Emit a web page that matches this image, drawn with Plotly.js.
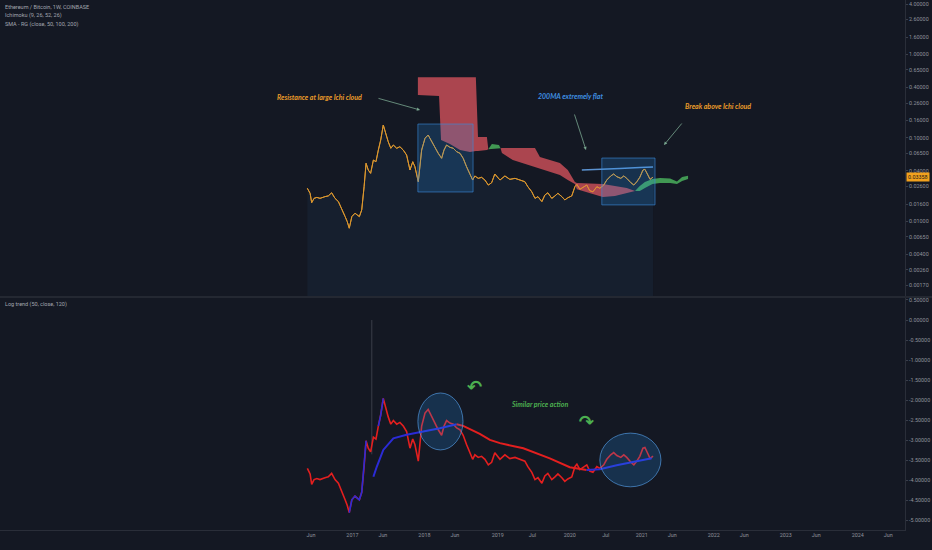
<!DOCTYPE html>
<html>
<head>
<meta charset="utf-8">
<script src="https://cdn.plot.ly/plotly-3.0.1.min.js"></script>
<style>html,body{margin:0;padding:0;background:#141823;}#chart{width:932px;height:550px;}</style>
</head>
<body>
<div id="chart"></div>
<script>
// ---------- DATA ----------
const priceDates = ['2016-05-19','2016-06-02','2016-06-10','2016-06-22','2016-07-06','2016-07-22','2016-08-16','2016-09-02','2016-09-19','2016-10-06','2016-10-23','2016-11-09','2016-11-26','2016-12-07','2016-12-17','2016-12-30','2017-01-15','2017-02-06','2017-02-18','2017-03-02','2017-03-12','2017-03-23','2017-04-04','2017-04-18','2017-05-01','2017-05-13','2017-05-25','2017-06-07','2017-06-21','2017-07-02','2017-07-15','2017-07-28','2017-08-14','2017-08-30','2017-09-16','2017-10-03','2017-10-20','2017-11-03','2017-11-14','2017-12-01','2017-12-18','2018-01-04','2018-01-20','2018-02-07','2018-02-23','2018-03-12','2018-03-29','2018-04-10','2018-04-23','2018-05-10','2018-05-27','2018-06-13','2018-06-30','2018-07-16','2018-08-02','2018-08-19','2018-09-02','2018-09-13','2018-09-30','2018-10-17','2018-11-03','2018-11-20','2018-12-07','2018-12-23','2019-01-09','2019-01-18','2019-02-12','2019-03-09','2019-04-04','2019-04-29','2019-05-24','2019-06-08','2019-06-28','2019-07-14','2019-07-29','2019-08-18','2019-09-02','2019-09-17','2019-10-07','2019-10-23','2019-11-07','2019-11-27','2019-12-12','2019-12-27','2020-01-16','2020-02-01','2020-02-11','2020-02-26','2020-03-12','2020-04-01','2020-04-16','2020-05-02','2020-05-22','2020-06-06','2020-06-26','2020-07-11','2020-07-31','2020-08-15','2020-08-31','2020-09-20','2020-10-05','2020-10-20','2020-11-10','2020-11-25','2020-12-10','2020-12-25','2021-01-10','2021-01-20','2021-02-04','2021-02-15','2021-03-02'];
const priceValues = [0.0247,0.0215,0.0166,0.0187,0.0192,0.0187,0.0196,0.0200,0.0218,0.0187,0.0171,0.0142,0.0113,0.0098,0.0082,0.0113,0.0124,0.0113,0.0136,0.0258,0.0492,0.0409,0.0373,0.0538,0.0514,0.0710,0.0936,0.1416,0.1074,0.0893,0.0745,0.0815,0.0745,0.0778,0.0710,0.0618,0.0409,0.0514,0.0448,0.0296,0.0710,0.0982,0.1074,0.0893,0.0778,0.0648,0.0565,0.0710,0.0815,0.0765,0.0745,0.0678,0.0648,0.0565,0.0448,0.0373,0.0310,0.0347,0.0325,0.0334,0.0310,0.0270,0.0288,0.0366,0.0325,0.0310,0.0347,0.0316,0.0325,0.0310,0.0296,0.0258,0.0224,0.0187,0.0196,0.0171,0.0205,0.0218,0.0187,0.0200,0.0215,0.0196,0.0179,0.0190,0.0200,0.0258,0.0275,0.0240,0.0254,0.0270,0.0231,0.0224,0.0258,0.0247,0.0270,0.0310,0.0347,0.0366,0.0340,0.0325,0.0347,0.0325,0.0288,0.0270,0.0296,0.0334,0.0409,0.0417,0.0356,0.0316,0.03358];

// Ichimoku cloud (already shifted forward)
const cloudDates = ['2017-11-29','2018-03-16','2018-03-26','2018-05-10','2018-06-30','2018-08-19','2018-09-18','2018-09-29','2018-11-13','2018-11-20','2018-12-08','2019-01-13','2019-01-21','2019-01-28','2019-03-24','2019-07-14','2019-08-08','2019-09-27','2019-11-17','2019-12-27','2020-02-01','2020-02-11','2020-06-21','2020-08-21','2020-10-20','2020-12-01','2020-12-25','2021-01-20','2021-02-27','2021-04-06','2021-05-27','2021-07-01','2021-07-27','2021-08-26'];
const spanA = [0.324,0.316,0.0936,0.0838,0.0710,0.0671,0.0690,0.0690,0.0710,0.0725,0.0838,0.0815,0.0745,0.0653,0.0538,0.0445,0.0421,0.0387,0.0356,0.0310,0.0278,0.0240,0.0194,0.0200,0.0217,0.0229,0.0263,0.0294,0.0319,0.0328,0.0324,0.0298,0.0337,0.0349];
const spanB = [0.528,0.528,0.528,0.528,0.528,0.528,0.528,0.1016,0.1016,0.0725,0.0730,0.0730,0.0745,0.0750,0.0750,0.0750,0.0585,0.0538,0.0495,0.0409,0.0294,0.0286,0.0278,0.0263,0.0249,0.0229,0.0229,0.0249,0.0278,0.0286,0.0286,0.0278,0.0302,0.0319];

// SMA 200
const smaDates = ['2020-03-07','2020-06-06','2020-09-16','2020-12-25','2021-03-02'];
const sma200 = [0.0409,0.0415,0.0427,0.0438,0.0445];

// Log trend panel
const trendDates = ['2017-04-18','2017-05-05','2017-06-07','2017-07-28','2017-10-03','2017-12-09','2018-03-20','2018-06-13','2018-07-16','2018-10-08','2018-11-28','2019-01-18','2019-05-16','2019-09-27','2020-01-06','2020-03-31','2020-06-06','2020-08-30','2020-12-09','2021-02-23'];
const trendValues = [-3.91,-3.66,-3.24,-2.95,-2.86,-2.80,-2.70,-2.60,-2.64,-2.84,-2.99,-3.07,-3.20,-3.45,-3.67,-3.74,-3.72,-3.62,-3.53,-3.45];
const blueRanges = [['2016-12-17','2017-03-12'],['2017-05-13','2017-06-07']];
const spikeDates = ['2017-04-10','2017-04-10'];
const spikeValues = [-3.35, 0.0];

// Axis ticks
const xTickVals = ['2016-06-06','2017-01-02','2017-06-05','2018-01-01','2018-06-04','2019-01-07','2019-07-01','2020-01-06','2020-07-06','2021-01-04','2021-06-07','2022-01-03','2022-06-06','2023-01-02','2023-06-05','2024-01-01','2024-06-03'];
const xTickText = ['Jun','2017','Jun','2018','Jun','2019','Jul','2020','Jul','2021','Jun','2022','Jun','2023','Jun','2024','Jun'];
const priceTicks = [4,2.6,1.6,1,0.65,0.4,0.26,0.16,0.1,0.065,0.04,0.026,0.016,0.01,0.0065,0.004,0.0026,0.0017];
const trendTicks = [0.5,0,-0.5,-1,-1.5,-2,-2.5,-3,-3.5,-4,-4.5,-5];
const lastPrice = 0.03358;

// ---------- STYLE ----------
const BG = '#141823';
const TXT = '#8f929b';
const RED = '#e41f1f';
const BLUE = '#2b2bd6';
const traces = [];

// area + price line
traces.push({x: priceDates, y: priceValues, type:'scatter', mode:'lines', xaxis:'x', yaxis:'y',
  line:{color:'#dc972e', width:1}, fill:'tozeroy', fillcolor:'rgba(50,95,140,0.11)', hoverinfo:'skip'});

// cloud segments
(function(){
  let seg = null;
  const segs = [];
  for (let i = 0; i < cloudDates.length; i++) {
    const d = spanA[i] - spanB[i];
    const col = d > 0 ? 'g' : (d < 0 ? 'r' : null);
    if (seg && col && col !== seg.c) { segs.push(seg); const p = seg.i[seg.i.length-1]; seg = {c: col, i: (spanA[p]===spanB[p]) ? [p] : []}; }
    if (!seg) seg = {c: col || 'r', i: []};
    if (!seg.c) seg.c = col;
    seg.i.push(i);
    if (col === null && seg.i.length > 1) { segs.push(seg); seg = {c: null, i: [i]}; }
  }
  if (seg && seg.i.length > 1) segs.push(seg);
  segs.forEach(s => {
    if (!s.c || s.i.length < 2) return;
    const xs = s.i.map(k => cloudDates[k]);
    traces.push({x: xs, y: s.i.map(k => spanA[k]), type:'scatter', mode:'lines', line:{width:0, color:'rgba(0,0,0,0)'}, xaxis:'x', yaxis:'y', hoverinfo:'skip'});
    traces.push({x: xs, y: s.i.map(k => spanB[k]), type:'scatter', mode:'lines', line:{width:0, color:'rgba(0,0,0,0)'}, fill:'tonexty',
      fillcolor: s.c === 'g' ? 'rgba(76,185,95,0.8)' : 'rgba(235,88,98,0.7)', xaxis:'x', yaxis:'y', hoverinfo:'skip'});
  });
})();

// price line again on top of cloud
traces.push({x: priceDates, y: priceValues, type:'scatter', mode:'lines', xaxis:'x', yaxis:'y', line:{color:'#dc972e', width:1}, hoverinfo:'skip'});
// SMA 200
traces.push({x: smaDates, y: sma200, type:'scatter', mode:'lines', xaxis:'x', yaxis:'y', line:{color:'#5b92d0', width:1.5}, hoverinfo:'skip'});

// bottom panel
const logValues = priceValues.map(v => Math.log(v));
traces.push({x: spikeDates, y: spikeValues, type:'scatter', mode:'lines', xaxis:'x', yaxis:'y2', line:{color:'#3a3e49', width:1}, hoverinfo:'skip'});
traces.push({x: priceDates, y: logValues, type:'scatter', mode:'lines', xaxis:'x', yaxis:'y2', line:{color:RED, width:1.6}, hoverinfo:'skip'});
blueRanges.forEach(r => {
  const ys = priceDates.map((d,i) => (d >= r[0] && d <= r[1]) ? logValues[i] : null);
  traces.push({x: priceDates, y: ys, type:'scatter', mode:'lines', xaxis:'x', yaxis:'y2', line:{color:BLUE, width:1.6}, hoverinfo:'skip'});
});
(function(){
  let start = 0;
  const colAt = i => trendValues[i] >= trendValues[i-1] ? BLUE : RED;
  let cur = colAt(1);
  for (let i = 2; i <= trendDates.length; i++) {
    const c = i < trendDates.length ? colAt(i) : null;
    if (c !== cur) {
      traces.push({x: trendDates.slice(start, i), y: trendValues.slice(start, i), type:'scatter', mode:'lines', xaxis:'x', yaxis:'y2', line:{color:cur, width:2}, hoverinfo:'skip'});
      start = i - 1; cur = c;
    }
  }
})();

const TF = {family:'Roboto, "Open Sans", sans-serif', size:5.4, color:TXT};
const lbl = (t, x, y, size) => ({text:t, xref:'paper', yref:'paper', x:x, y:y, xanchor:'left', yanchor:'middle', showarrow:false, font:{family:'Roboto, sans-serif', size:size, color:'#a3a6af'}});
const note = (t, x, y, color) => ({text:t, xref:'paper', yref:'paper', x:x, y:y, xanchor:'center', yanchor:'middle', showarrow:false, font:{family:'Lato, "Open Sans", sans-serif', size:7, color:color, style:'italic', weight:700}});
const arrow = (x, y, ax, ay) => ({text:'', xref:'paper', yref:'paper', x:x, y:y, ax:ax, ay:ay, axref:'pixel', ayref:'pixel', showarrow:true, arrowhead:2, arrowsize:0.8, arrowwidth:0.8, arrowcolor:'#79a68f'});

const layout = {
  width:932, height:550,
  paper_bgcolor:BG, plot_bgcolor:BG,
  margin:{l:0, r:27, t:0, b:20},
  showlegend:false,
  xaxis:{type:'date', range:['2012-02-16','2024-08-27'], anchor:'y2', tickvals:xTickVals, ticktext:xTickText, tickfont:TF,
    showgrid:false, zeroline:false, showline:true, linecolor:'#2a2e39', ticks:'', fixedrange:true},
  yaxis:{type:'log', domain:[0.4415,1], range:[-2.899,0.650], side:'right', tickvals:priceTicks, ticktext:priceTicks.map(v=>v.toFixed(5)),
    tickfont:TF, showgrid:false, zeroline:false, showline:true, linecolor:'#2a2e39', ticks:'outside', ticklen:2, tickcolor:'#3a3e4a', ticklabelstandoff:0},
  yaxis2:{domain:[0,0.4377], range:[-5.237,0.549], side:'right', tickvals:trendTicks, ticktext:trendTicks.map(v=>v.toFixed(5)),
    tickfont:TF, showgrid:false, zeroline:false, showline:true, linecolor:'#2a2e39', ticks:'outside', ticklen:2, tickcolor:'#3a3e4a', ticklabelstandoff:0},
  shapes:[
    {type:'rect', xref:'x', yref:'y', x0:'2017-11-29', x1:'2018-09-04', y0:0.0223, y1:0.1455, fillcolor:'rgba(33,150,243,0.2)', line:{color:'rgba(60,140,220,0.6)', width:1}},
    {type:'rect', xref:'x', yref:'y', x0:'2020-06-16', x1:'2021-03-12', y0:0.0156, y1:0.0569, fillcolor:'rgba(33,150,243,0.2)', line:{color:'rgba(60,140,220,0.6)', width:1}},
    {type:'circle', xref:'x', yref:'y2', x0:'2017-11-29', x1:'2018-07-15', y0:-3.24, y1:-1.82, fillcolor:'rgba(33,150,243,0.2)', line:{color:'rgba(80,150,220,0.7)', width:1}},
    {type:'circle', xref:'x', yref:'y2', x0:'2020-06-06', x1:'2021-04-11', y0:-4.16, y1:-2.82, fillcolor:'rgba(33,150,243,0.2)', line:{color:'rgba(80,150,220,0.7)', width:1}},
    {type:'line', xref:'paper', yref:'paper', x0:0, x1:1.03, y0:0.4396, y1:0.4396, line:{color:'#2a2e39', width:1.5}}
  ],
  annotations:[
    lbl('Ethereum / Bitcoin, 1W, COINBASE', 0.0033, 0.9875, 5.5),
    lbl('Ichimoku (9, 26, 52, 26)', 0.0033, 0.9700, 5.5),
    lbl('SMA - RG (close, 50, 100, 200)', 0.0033, 0.9538, 5.5),
    lbl('Log trend (50, close, 120)', 0.0033, 0.4264, 5.5),
    note('Resistance at large Ichi cloud', 0.3525, 0.8170, '#eb9c2a'),
    note('200MA extremely flat', 0.6309, 0.8198, '#3f8fe0'),
    note('Break above Ichi cloud', 0.7934, 0.8000, '#eb9c2a'),
    note('Similar price action', 0.5961, 0.2377, '#4caf50'),
    arrow(0.4641, 0.7925, -43, -12),
    arrow(0.6475, 0.7170, -12, -37),
    arrow(0.7337, 0.7264, 19, -23),
    {text:'<b>↶</b>', xref:'paper', yref:'paper', x:0.5238, y:0.2481, showarrow:false, font:{family:'DejaVu Sans', size:18, color:'#4caf50'}},
    {text:'<b>↷</b>', xref:'paper', yref:'paper', x:0.6486, y:0.1811, showarrow:false, font:{family:'DejaVu Sans', size:18, color:'#4caf50'}},
    {text:lastPrice.toFixed(5), xref:'paper', yref:'y', x:1, y:Math.log10(lastPrice), xanchor:'left', yanchor:'middle', xshift:1, showarrow:false,
      bgcolor:'#f2a11d', borderpad:1, font:{family:'Roboto, sans-serif', size:5.4, color:'#1a1a1a'}}
  ]
};

Plotly.newPlot('chart', traces, layout, {staticPlot:true, displayModeBar:false});
</script>
</body>
</html>
